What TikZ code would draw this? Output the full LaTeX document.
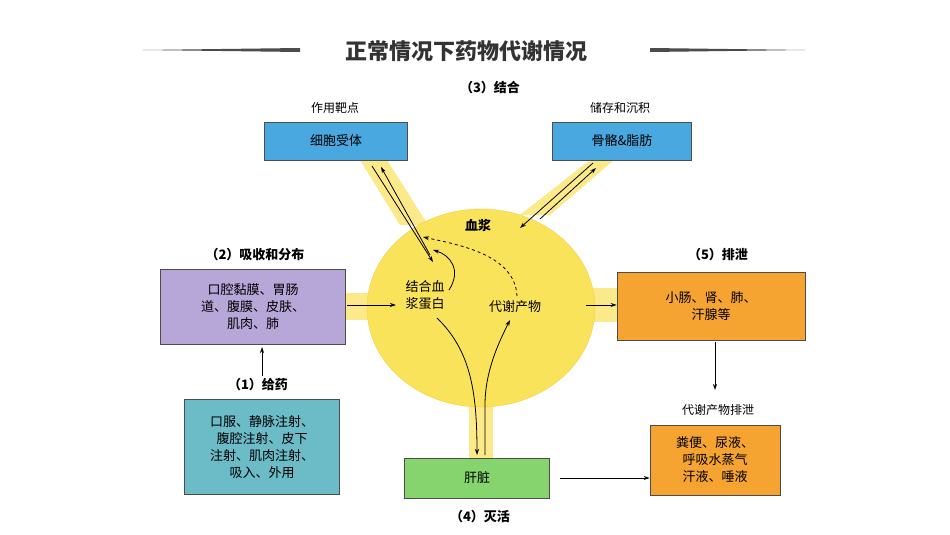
\documentclass[tikz,border=0pt]{standalone}
\usepackage{fontspec}
\setmainfont{Noto Sans CJK SC}
\usetikzlibrary{arrows.meta,shapes.geometric}
\definecolor{boxblue}{HTML}{4AA8E0}
\definecolor{boxpurple}{HTML}{B7A6D8}
\definecolor{boxteal}{HTML}{6CBCC8}
\definecolor{boxorange}{HTML}{F5A331}
\definecolor{boxgreen}{HTML}{86D46E}
\definecolor{plasma}{HTML}{F9E35A}
\definecolor{tube}{HTML}{FBE98A}
\tikzset{
  box/.style={draw=black!70, thick, minimum width=#1, inner sep=2pt, align=center, font=\fontsize{13}{17}\selectfont},
  lbl/.style={font=\fontsize{13}{16}\selectfont\bfseries},
  capt/.style={font=\fontsize{12}{15}\selectfont},
  flow/.style={-{Stealth[length=6pt,width=4pt]}, thick},
  tubefill/.style={fill=tube, draw=none}
}
\begin{document}
\begin{tikzpicture}[x=1pt, y=-1pt]
    \useasboundingbox (0,0) rectangle (950,535);
    \fill[white] (0,0) rectangle (950,535);

    % title
    \node[font=\fontsize{22}{26}\selectfont\bfseries, text=black!80] (title) at (466,51) {正常情况下药物代谢情况};
    \fill[black!70] (143,50) -- (300,48) -- (300,52) -- cycle;
    \fill[black!70] (805,50) -- (650,48) -- (650,52) -- cycle;

    % tubes
    \fill[tubefill] (345,293) rectangle (375,320);
    \fill[tubefill] (585,288) rectangle (620,322);
    \fill[tubefill] (469,395) rectangle (493,460);
    \fill[tubefill] (360,160) -- (387,160) -- (428,225) -- (400,225) -- cycle;
    \fill[tubefill] (590,160) -- (614,160) -- (550,215) -- (520,215) -- cycle;

    % plasma
    \node[ellipse, fill=plasma, draw=plasma!80!orange, minimum width=228pt, minimum height=198pt] (plasma) at (481,308) {};
    \node[lbl] (xj) at (478,225) {血浆};
    \node[align=center, font=\fontsize{13}{17}\selectfont] (bind) at (425,295) {结合血\\浆蛋白};
    \node[font=\fontsize{13}{16}\selectfont] (meta) at (515,307) {代谢产物};

    % boxes
    \node[box=143pt, fill=boxblue, minimum height=38pt] (rec) at (336,141) {细胞受体};
    \node[box=139pt, fill=boxblue, minimum height=38pt] (bone) at (622,141) {骨骼\&脂肪};
    \node[box=185pt, fill=boxpurple, minimum height=75pt] (abs) at (253,307) {口腔黏膜、胃肠\\道、腹膜、皮肤、\\肌肉、肺};
    \node[box=155pt, fill=boxteal, minimum height=95pt] (adm) at (262,447) {口服、静脉注射、\\腹腔注射、皮下\\注射、肌肉注射、\\吸入、外用};
    \node[box=188pt, fill=boxorange, minimum height=68pt] (exc) at (711,306) {小肠、肾、肺、\\汗腺等};
    \node[box=130pt, fill=boxorange, minimum height=70pt] (waste) at (715,460) {粪便、尿液、\\呼吸水蒸气\\汗液、唾液};
    \node[box=145pt, fill=boxgreen, minimum height=40pt] (liver) at (477,478) {肝脏};

    % captions
    \node[lbl] (s3) at (490,88) {（3）结合};
    \node[capt] (target) at (335,108) {作用靶点};
    \node[capt] (store) at (620,108) {储存和沉积};
    \node[lbl] (s2) at (255,255) {（2）吸收和分布};
    \node[lbl] (s1) at (258,385) {（1）给药};
    \node[lbl] (s5) at (718,255) {（5）排泄};
    \node[capt] (wlbl) at (718,410) {代谢产物排泄};
    \node[lbl] (s4) at (480,517) {（4）灭活};

    % arrows
    \draw[flow] (262,376) -- (262,347);
    \draw[flow] (347,305) -- (396,305);
    \draw[flow] (586,305) -- (exc.west |- 0,305);
    \draw[flow] (715,342) -- (715,390);
    \draw[flow] (560,478) -- (waste.west |- 0,478);
    \draw[flow] (372,166) -- (433,262);
    \draw[flow] (430,255) -- (381,167);
    \draw[flow] (449,290) .. controls (462,270) and (450,255) .. (433,250);
    \draw[flow, dashed] (517,296) .. controls (515,255) and (460,245) .. (423,237);
    \draw[flow] (593,163) -- (520,228);
    \draw[flow] (540,219) -- (596,168);
    \draw[flow] (437,318) .. controls (470,350) and (477,390) .. (477,455);
    \draw[flow] (485,455) -- (485,405) .. controls (485,370) and (500,340) .. (510,320);
\end{tikzpicture}
\end{document}
